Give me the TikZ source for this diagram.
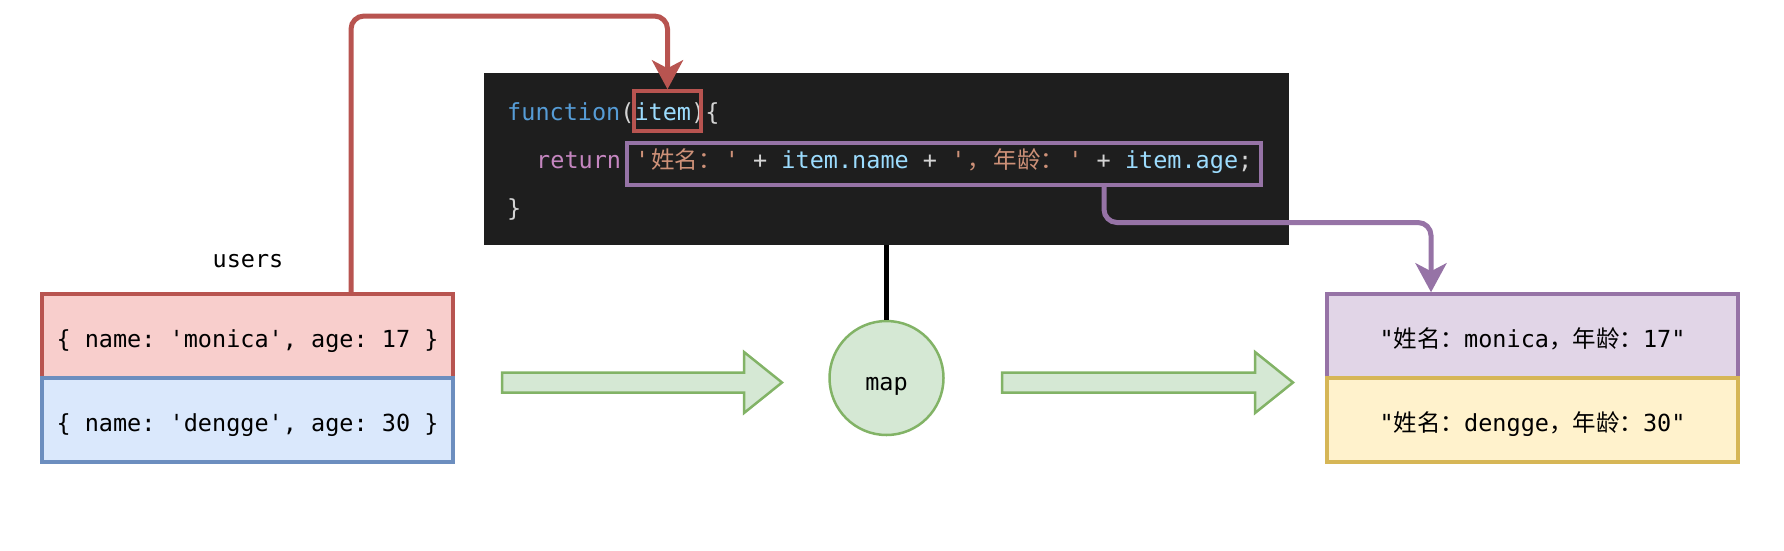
\documentclass[tikz,border=0pt]{standalone}
\usepackage{fontspec}
\setmonofont{DejaVu Sans Mono}
\newfontfamily\cjkf{Noto Sans CJK SC}
\usetikzlibrary{arrows.meta,calc}
\definecolor{redfill}{HTML}{F8CECC}\definecolor{redline}{HTML}{B85450}
\definecolor{bluefill}{HTML}{DAE8FC}\definecolor{blueline}{HTML}{6C8EBF}
\definecolor{purpfill}{HTML}{E1D5E7}\definecolor{purpline}{HTML}{9673A6}
\definecolor{yelfill}{HTML}{FFF2CC}\definecolor{yelline}{HTML}{D6B656}
\definecolor{grnfill}{HTML}{D5E8D4}\definecolor{grnline}{HTML}{82B366}
\definecolor{codebg}{HTML}{1E1E1E}
\definecolor{ckw}{HTML}{569CD6}\definecolor{cvar}{HTML}{9CDCFE}
\definecolor{cret}{HTML}{C586C0}\definecolor{cstr}{HTML}{CE9178}
\definecolor{cpun}{HTML}{D4D4D4}
\begin{document}
\begin{tikzpicture}[x=1pt,y=-1pt,
  every node/.style={font=\ttfamily\fontsize{23.5}{28}\selectfont, inner sep=0pt},
  databox/.style={draw, line width=3.5pt, minimum width=411pt, minimum height=84pt, text height=22pt, text depth=0pt},
  codeline/.style={anchor=base west, text=cpun},
  hlbox/.style={draw, line width=3.5pt, fill=none},
  conn/.style={line width=5pt, rounded corners=13pt, -{Stealth[length=29pt,width=31pt,inset=8pt]}},
  greenarrow/.style={draw=grnline, fill=grnfill, line width=2.5pt, line join=miter}
]
\useasboundingbox (0,0) rectangle (1784,550);

% code block
\node[fill=codebg, minimum width=805pt, minimum height=172pt] (code) at (886.5,159) {};
\node[codeline] (l1) at (507,120) {\textcolor{ckw}{function}(\textcolor{cvar}{item})\{};
\node[codeline] (l2) at (536,168) {\textcolor{cret}{return} \textcolor{cstr}{'\kern2pt{\cjkf 姓名：}\kern3pt'} + \textcolor{cvar}{item.name} + \textcolor{cstr}{'\kern2pt{\cjkf ，\kern3pt年龄：}\kern4pt'} + \textcolor{cvar}{item.age};};
\node[codeline] (l3) at (507,216) {\}};
\node[hlbox, draw=redline, minimum width=67pt, minimum height=40pt] (itembox) at (667.5,111) {};
\node[hlbox, draw=purpline, minimum width=634pt, minimum height=42pt] (pbox) at (944,164) {};

% input array
\node (users) at (248,261) {users};
\node[databox, draw=redline, fill=redfill] (r1) at (247.5,336) {\{ name: 'monica', age: 17 \}};
\node[databox, draw=blueline, fill=bluefill] (r2) at (247.5,420) {\{ name: 'dengge', age: 30 \}};

% output array
\node[databox, draw=purpline, fill=purpfill] (o1) at (1532.5,336) {"{\cjkf 姓名：}monica{\cjkf ，年龄：}17"};
\node[databox, draw=yelline, fill=yelfill] (o2) at (1532.5,420) {"{\cjkf 姓名：}dengge{\cjkf ，年龄：}30"};

% map
\node[circle, draw=grnline, fill=grnfill, line width=2.5pt, minimum size=114pt, text height=25pt, text depth=0pt] (map) at (886.5,378) {map};
\draw[line width=5pt] (code.south) -- (map.north);

% green arrows
\draw[greenarrow] (502,372.5) -- (744,372.5) -- (744,352) -- (782,382.5) -- (744,413) -- (744,392.5) -- (502,392.5) -- cycle;
\draw[greenarrow] (1002,372.5) -- (1255,372.5) -- (1255,352) -- (1293,382.5) -- (1255,413) -- (1255,392.5) -- (1002,392.5) -- cycle;

% connectors
\coordinate (rs) at ([xshift=103.5pt]r1.north);
\coordinate (rh) at (0,16);
\draw[conn, draw=redline] (rs) -- (rs |- rh) -| (itembox.north);
\coordinate (ps) at ([xshift=160pt]pbox.south);
\coordinate (ph) at (0,222.5);
\coordinate (pt) at ([xshift=-101.5pt]o1.north);
\draw[conn, draw=purpline] (ps) -- (ps |- ph) -| (pt);
\end{tikzpicture}
\end{document}
